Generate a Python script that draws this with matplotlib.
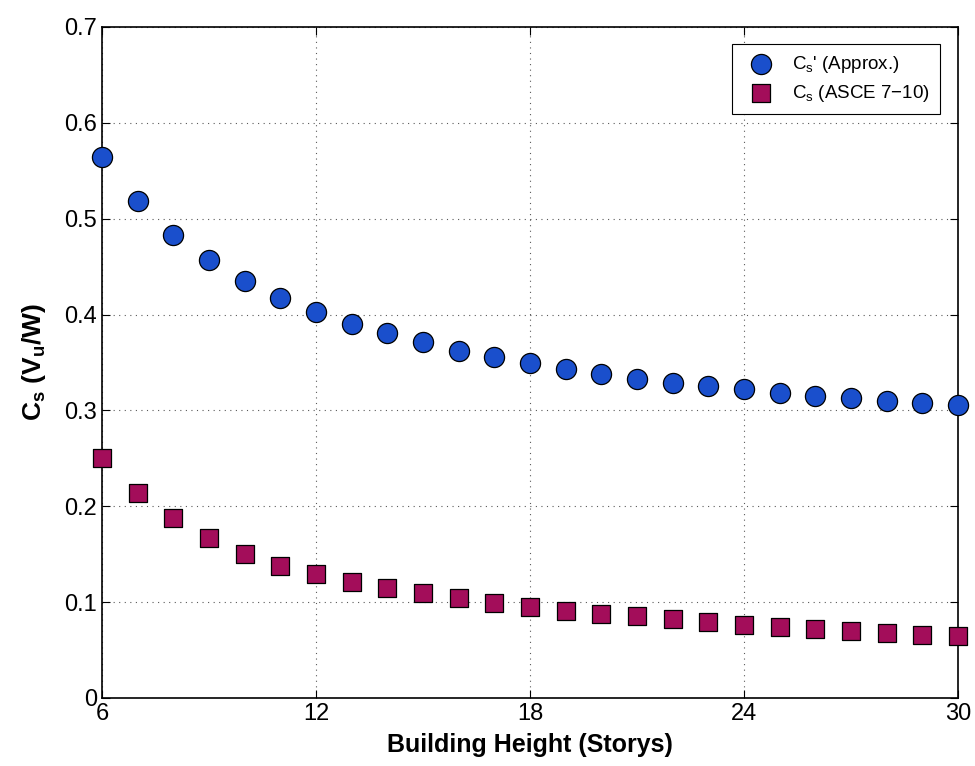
import matplotlib
matplotlib.use('Agg')
import matplotlib.pyplot as plt

plt.rcParams['font.family'] = ['Liberation Sans', 'DejaVu Sans']
plt.rcParams['mathtext.fontset'] = 'custom'
plt.rcParams['mathtext.rm'] = 'Liberation Sans'
plt.rcParams['mathtext.it'] = 'Liberation Sans'
plt.rcParams['mathtext.bf'] = 'Liberation Sans:bold'

# building heights (storys)
storys = list(range(6, 31))

# Cs' approximation
cs_approx = [0.564, 0.518, 0.483, 0.457, 0.435, 0.417, 0.403, 0.390, 0.381, 0.371,
             0.362, 0.356, 0.349, 0.343, 0.338, 0.333, 0.329, 0.325, 0.322, 0.318,
             0.315, 0.313, 0.310, 0.308, 0.306]

# Cs from ASCE 7-10
cs_asce = [0.250, 0.214, 0.188, 0.167, 0.150, 0.138, 0.129, 0.121, 0.115, 0.109,
           0.104, 0.099, 0.095, 0.091, 0.088, 0.085, 0.082, 0.079, 0.076, 0.074,
           0.072, 0.070, 0.068, 0.066, 0.065]

xticks = [6, 12, 18, 24, 30]
yticks = [0, 0.1, 0.2, 0.3, 0.4, 0.5, 0.6, 0.7]
ytick_labels = ['0', '0.1', '0.2', '0.3', '0.4', '0.5', '0.6', '0.7']

fig = plt.figure(figsize=(9.75, 7.66), dpi=100)
ax = fig.add_axes([0.1046, 0.0888, 0.878, 0.876])

ax.scatter(storys, cs_approx, s=210, marker='o', color='#1a4fcc',
           edgecolors='black', linewidths=0.9, zorder=3, clip_on=False,
           label=r"$\mathregular{C_s}$' (Approx.)")
ax.scatter(storys, cs_asce, s=150, marker='s', color='#a30d5a',
           edgecolors='black', linewidths=0.9, zorder=3, clip_on=False,
           label=r"$\mathregular{C_s}$ (ASCE 7$-$10)")

ax.set_xlim(6, 30)
ax.set_ylim(0, 0.7)
ax.set_xticks(xticks)
ax.set_yticks(yticks)
ax.set_yticklabels(ytick_labels)
ax.tick_params(direction='in', top=True, right=True, labelsize=17, length=6, width=0.8)
ax.grid(True, linestyle=(0, (1, 4)), color='black', linewidth=0.8, alpha=0.65)
for sp in ax.spines.values():
    sp.set_linewidth(1.2)

ax.set_xlabel('Building Height (Storys)', fontsize=18, fontweight='bold', labelpad=6)
ax.set_ylabel(r'$\mathbf{C_s\ (V_u/W)}$', fontsize=19, labelpad=12)

leg = ax.legend(loc='upper right', fontsize=13.5, fancybox=False, framealpha=1,
                edgecolor='black', borderpad=0.5, handletextpad=0.7,
                labelspacing=0.45, scatterpoints=1, bbox_to_anchor=(0.9895, 0.988))
leg.get_frame().set_linewidth(0.8)

fig.savefig('out.png', dpi=100)
